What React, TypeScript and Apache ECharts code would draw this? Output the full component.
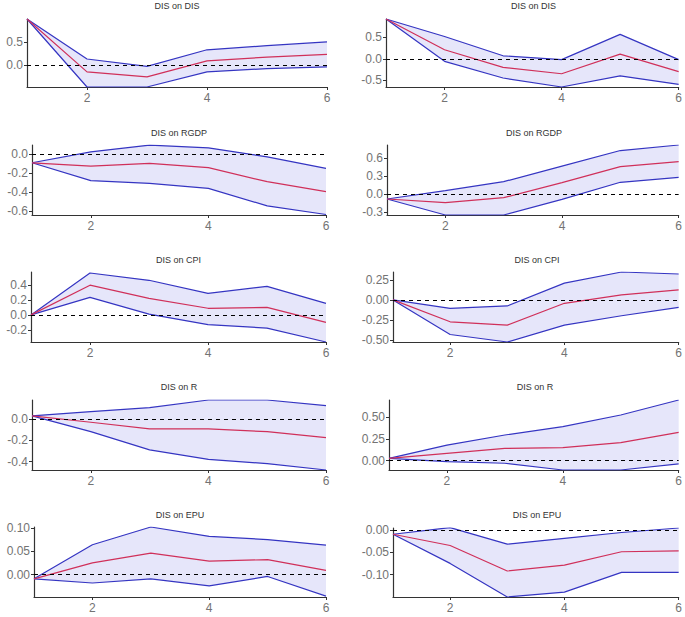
import React, { useEffect, useRef } from "react";
import * as echarts from "echarts";

const steps = [1, 2, 3, 4, 5, 6];
const xTicks = [2, 4, 6];

const titles = [
  "DIS on DIS", "DIS on DIS",
  "DIS on RGDP", "DIS on RGDP",
  "DIS on CPI", "DIS on CPI",
  "DIS on R", "DIS on R",
  "DIS on EPU", "DIS on EPU",
];

// Panel 1 (left) DIS on DIS
const p1Upper = [1.0, 0.13, -0.03, 0.33, 0.42, 0.5];
const p1Mid = [1.0, -0.15, -0.26, 0.09, 0.17, 0.23];
const p1Lower = [1.0, -0.48, -0.48, -0.15, -0.08, -0.04];
// Panel 2 (right) DIS on DIS
const p2Upper = [0.93, 0.52, 0.07, -0.02, 0.57, -0.02];
const p2Mid = [0.93, 0.21, -0.2, -0.35, 0.11, -0.3];
const p2Lower = [0.93, -0.06, -0.45, -0.66, -0.4, -0.6];
// Panel 3 (left) DIS on RGDP
const p3Upper = [-0.088, 0.028, 0.098, 0.07, -0.025, -0.147];
const p3Mid = [-0.088, -0.123, -0.095, -0.14, -0.288, -0.393];
const p3Lower = [-0.088, -0.277, -0.305, -0.358, -0.544, -0.635];
// Panel 4 (right) DIS on RGDP
const p4Upper = [-0.078, 0.061, 0.21, 0.47, 0.728, 0.82];
const p4Mid = [-0.078, -0.139, -0.056, 0.194, 0.461, 0.544];
const p4Lower = [-0.078, -0.344, -0.344, -0.083, 0.2, 0.283];
// Panel 5 (left) DIS on CPI
const p5Upper = [0.0, 0.557, 0.46, 0.285, 0.38, 0.153];
const p5Mid = [0.0, 0.395, 0.22, 0.088, 0.1, -0.1];
const p5Lower = [0.0, 0.232, 0.01, -0.13, -0.175, -0.36];
// Panel 6 (right) DIS on CPI
const p6Upper = [0.0, -0.105, -0.075, 0.209, 0.347, 0.322];
const p6Mid = [0.0, -0.272, -0.314, -0.042, 0.063, 0.126];
const p6Lower = [0.0, -0.43, -0.523, -0.314, -0.197, -0.092];
// Panel 7 (left) DIS on R
const p7Upper = [0.032, 0.073, 0.11, 0.183, 0.183, 0.13];
const p7Mid = [0.032, -0.028, -0.09, -0.09, -0.117, -0.173];
const p7Lower = [0.032, -0.117, -0.29, -0.38, -0.42, -0.48];
// Panel 8 (right) DIS on R
const p8Upper = [0.027, 0.18, 0.296, 0.392, 0.527, 0.7];
const p8Mid = [0.027, 0.085, 0.142, 0.15, 0.208, 0.327];
const p8Lower = [0.027, -0.012, -0.03, -0.108, -0.108, -0.038];
// Panel 9 (left) DIS on EPU
const p9Upper = [-0.009, 0.064, 0.102, 0.082, 0.075, 0.063];
const p9Mid = [-0.009, 0.025, 0.046, 0.029, 0.032, 0.009];
const p9Lower = [-0.009, -0.018, -0.009, -0.024, -0.004, -0.046];
// Panel 10 (right) DIS on EPU
const p10Upper = [-0.01, 0.005, -0.032, -0.019, -0.006, 0.004];
const p10Mid = [-0.01, -0.035, -0.092, -0.079, -0.049, -0.047];
const p10Lower = [-0.01, -0.075, -0.15, -0.139, -0.095, -0.095];

const uppers = [p1Upper, p2Upper, p3Upper, p4Upper, p5Upper, p6Upper, p7Upper, p8Upper, p9Upper, p10Upper];
const mids = [p1Mid, p2Mid, p3Mid, p4Mid, p5Mid, p6Mid, p7Mid, p8Mid, p9Mid, p10Mid];
const lowers = [p1Lower, p2Lower, p3Lower, p4Lower, p5Lower, p6Lower, p7Lower, p8Lower, p9Lower, p10Lower];

const yMins = [-0.48, -0.66, -0.64, -0.344, -0.36, -0.523, -0.48, -0.108, -0.048, -0.15];
const yMaxs = [1.0, 0.93, 0.1, 0.82, 0.57, 0.347, 0.183, 0.7, 0.102, 0.004];
const yTicks = [
  [0, 0.5],
  [-0.5, 0, 0.5],
  [-0.6, -0.4, -0.2, 0],
  [-0.3, 0, 0.3, 0.6],
  [-0.2, 0, 0.2, 0.4],
  [-0.5, -0.25, 0, 0.25],
  [-0.4, -0.2, 0],
  [0, 0.25, 0.5],
  [0, 0.05, 0.1],
  [-0.1, -0.05, 0],
];
const yDecimals = [1, 1, 1, 1, 1, 2, 1, 2, 2, 2];

// layout: [left, top, width, height, titleTop]
const layout = [
  [27, 19, 300, 68, 1],
  [386, 19, 295, 68, 1],
  [32, 145, 294, 70, 128],
  [387, 145, 294, 70, 128],
  [31, 272, 295, 70, 255],
  [393, 272, 288, 70, 255],
  [32, 400, 294, 70, 382],
  [389, 400, 292, 70, 382],
  [34, 527, 292, 70, 510],
  [393, 528, 288, 69, 510],
];

const FONT = "'Liberation Sans', Arial, sans-serif";
const BLUE = "#3535c2";
const RED = "#d0305a";
const FILL = "#e6e6fa";
const AXIS = "#333333";
const LABEL = "#737373";

function buildOption() {
  const grid: any[] = [];
  const xAxis: any[] = [];
  const yAxis: any[] = [];
  const title: any[] = [];
  const series: any[] = [];

  titles.forEach((t, i) => {
    const [l, tp, w, h, tt] = layout[i];
    grid.push({ left: l, top: tp, width: w, height: h, containLabel: false });
    title.push({
      text: t,
      left: l + w / 2,
      top: tt,
      textAlign: "center",
      padding: 0,
      textStyle: { fontSize: 9, fontWeight: "normal", color: "#333", fontFamily: FONT },
    });
    xAxis.push({
      type: "value",
      gridIndex: i,
      min: 1,
      max: 6,
      splitLine: { show: false },
      axisLine: { show: true, onZero: false, lineStyle: { color: AXIS, width: 1.2 } },
      axisTick: { show: true, length: 3, customValues: xTicks, lineStyle: { color: AXIS } },
      axisLabel: { customValues: xTicks, fontSize: 12, color: LABEL, margin: 5, fontFamily: FONT },
    });
    const dec = yDecimals[i];
    yAxis.push({
      type: "value",
      gridIndex: i,
      min: yMins[i],
      max: yMaxs[i],
      splitLine: { show: false },
      axisLine: { show: true, onZero: false, lineStyle: { color: AXIS, width: 1.2 } },
      axisTick: { show: true, length: 3, customValues: yTicks[i], lineStyle: { color: AXIS } },
      axisLabel: {
        customValues: yTicks[i],
        fontSize: 12,
        color: LABEL,
        margin: 4,
        fontFamily: FONT,
        formatter: (v: number) => v.toFixed(dec),
      },
    });

    const lower = lowers[i];
    const upper = uppers[i];
    const mid = mids[i];
    series.push({
      type: "custom",
      xAxisIndex: i,
      yAxisIndex: i,
      clip: true,
      silent: true,
      z: 1,
      data: steps.map((s, k) => [s, lower[k], upper[k]]),
      renderItem: (params: any, api: any) => {
        if (params.dataIndex !== 0) return null;
        const pts: number[][] = [];
        for (let k = 0; k < steps.length; k++) pts.push(api.coord([steps[k], upper[k]]));
        for (let k = steps.length - 1; k >= 0; k--) pts.push(api.coord([steps[k], lower[k]]));
        return {
          type: "polygon",
          shape: { points: pts },
          style: { fill: FILL, stroke: "none" },
        };
      },
    });
    series.push({
      type: "line",
      xAxisIndex: i,
      yAxisIndex: i,
      data: steps.map((s, k) => [s, upper[k]]),
      symbol: "none",
      lineStyle: { color: BLUE, width: 1.2 },
      z: 3,
    });
    series.push({
      type: "line",
      xAxisIndex: i,
      yAxisIndex: i,
      data: steps.map((s, k) => [s, lower[k]]),
      symbol: "none",
      lineStyle: { color: BLUE, width: 1.2 },
      z: 3,
    });
    series.push({
      type: "line",
      xAxisIndex: i,
      yAxisIndex: i,
      data: steps.map((s, k) => [s, mid[k]]),
      symbol: "none",
      lineStyle: { color: RED, width: 1.2 },
      z: 4,
      markLine: {
        silent: true,
        symbol: "none",
        label: { show: false },
        lineStyle: { color: "#000", type: [4, 4], width: 1 },
        data: [{ yAxis: 0 }],
      },
    });
  });

  return { animation: false, backgroundColor: "#fff", grid, xAxis, yAxis, title, series };
}

export default function App() {
  const ref = useRef<HTMLDivElement>(null);
  useEffect(() => {
    if (!ref.current) return;
    const chart = echarts.init(ref.current, undefined, { renderer: "svg" });
    chart.setOption(buildOption() as any);
    return () => chart.dispose();
  }, []);
  return (
    <div
      ref={ref}
      style={{ position: "absolute", left: 0, top: 0, width: 685, height: 617, background: "#fff" }}
    />
  );
}
